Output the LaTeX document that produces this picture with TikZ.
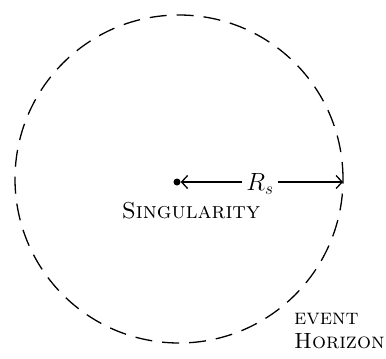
\documentclass[tikz,border=0pt]{standalone}
\usepackage{fontspec}
\usetikzlibrary{arrows.meta}
\begin{document}
\begin{tikzpicture}[x=1pt, y=-1pt,
  hand/.style={line width=1.3pt},
  lab/.style={font=\fontsize{23}{25}\selectfont\scshape\addfontfeatures{LetterSpace=12}, inner sep=1pt},
  arr/.style={hand, -{Straight Barb[length=6pt, width=13pt]}}
]
\useasboundingbox (0,0) rectangle (386,359);
% horizon and singularity
\node[draw, circle, hand, dash pattern=on 17pt off 10pt, minimum size=328pt, inner sep=0pt] (horizon) at (179,179) {};
\node[circle, fill, minimum size=7pt, inner sep=0pt] (sing) at (177,182) {};
\coordinate (edge) at (343,182);
% labels
\node[font=\fontsize{24}{26}\selectfont, inner sep=4pt] (rs) at (260,184) {$R_s$};
\node[lab] (singlab) at (191,211) {Singularity};
\node[lab, font=\fontsize{22}{24}\selectfont\scshape\addfontfeatures{LetterSpace=4}, align=left, anchor=north west] (evlab) at (293,312) {event\\Horizon};
% arrows
\draw[arr] (rs.west|-sing) -- (sing);
\draw[arr] (rs.east|-edge) -- (edge);
\end{tikzpicture}
\end{document}
